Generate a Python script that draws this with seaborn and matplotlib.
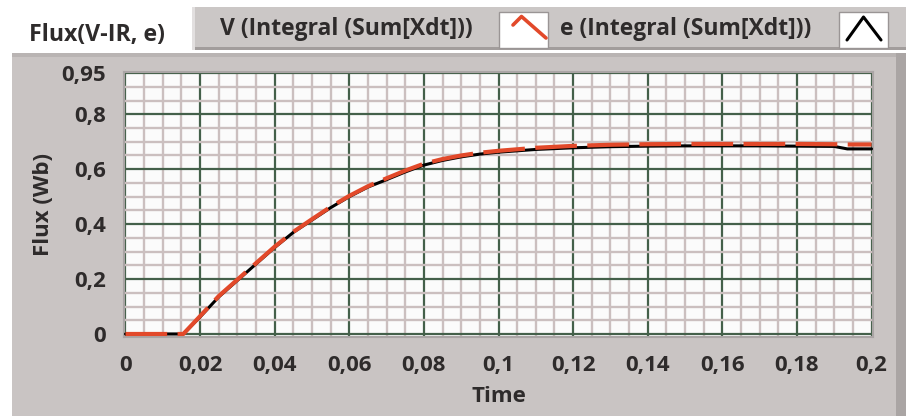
import matplotlib
matplotlib.use("Agg")
import matplotlib.pyplot as plt
import seaborn as sns
import pandas as pd
from matplotlib.patches import Rectangle
from matplotlib.lines import Line2D
from matplotlib.ticker import MultipleLocator, FixedLocator

# ---------------- data ----------------
time = [0, 0.005, 0.01, 0.0155, 0.02, 0.025, 0.03, 0.035, 0.04, 0.045, 0.05,
        0.055, 0.06, 0.065, 0.07, 0.075, 0.08, 0.085, 0.09, 0.095, 0.1, 0.11,
        0.12, 0.13, 0.14, 0.15, 0.16, 0.17, 0.18, 0.19, 0.1935, 0.2]
flux_e = [0, 0, 0, 0, 0.062, 0.135, 0.195, 0.255, 0.315, 0.37, 0.415,
          0.46, 0.5, 0.535, 0.562, 0.59, 0.615, 0.632, 0.645, 0.655, 0.662, 0.672,
          0.678, 0.682, 0.684, 0.685, 0.685, 0.685, 0.684, 0.683, 0.674, 0.674]
flux_v = [0, 0, 0, 0, 0.065, 0.138, 0.198, 0.258, 0.318, 0.372, 0.418,
          0.463, 0.503, 0.538, 0.567, 0.595, 0.62, 0.637, 0.65, 0.66, 0.667, 0.678,
          0.685, 0.689, 0.691, 0.692, 0.692, 0.692, 0.692, 0.691, 0.69, 0.69]
x_ticks = [0, 0.02, 0.04, 0.06, 0.08, 0.1, 0.12, 0.14, 0.16, 0.18, 0.2]
x_labels = ["0", "0,02", "0,04", "0,06", "0,08", "0,1", "0,12", "0,14", "0,16", "0,18", "0,2"]
y_ticks = [0, 0.2, 0.4, 0.6, 0.8, 0.95]
y_labels = ["0", "0,2", "0,4", "0,6", "0,8", "0,95"]
title_text = "Flux(V-IR, e)"
series_names = ["V (Integral (Sum[Xdt]))", "e (Integral (Sum[Xdt]))"]

df = pd.DataFrame({"Time": time, "e": flux_e, "V": flux_v})

# ---------------- style ----------------
sns.set_style("white")
plt.rcParams["font.family"] = ["Open Sans", "DejaVu Sans"]
plt.rcParams["font.weight"] = "bold"

W, H = 906, 416
fig = plt.figure(figsize=(W / 100, H / 100), dpi=100)
fig.patch.set_facecolor("white")

def fx(x):
    return x / W

def fy(y):
    return 1 - y / H

PANEL = "#c9c4c3"
TXT = "#2e2b2b"

# panel background
fig.add_artist(Rectangle((fx(12), 0), fx(896) - fx(12), fy(53), transform=fig.transFigure,
                         facecolor=PANEL, edgecolor="none", zorder=0))
fig.add_artist(Rectangle((fx(896), 0), fx(906) - fx(896), fy(53), transform=fig.transFigure,
                         facecolor="#aaa5a4", edgecolor="none", zorder=0))
fig.add_artist(Rectangle((fx(12), fy(57)), fx(896) - fx(12), fy(53) - fy(57), transform=fig.transFigure,
                         facecolor="#b9b4b3", edgecolor="none", zorder=0))

# legend box
fig.add_artist(Rectangle((fx(192), fy(50)), fx(906) - fx(192), fy(7) - fy(50), transform=fig.transFigure,
                         facecolor="#cbc7c6", edgecolor="none", zorder=1))
fig.add_artist(Rectangle((fx(192), fy(50)), fx(906) - fx(192), fy(47) - fy(50), transform=fig.transFigure,
                         facecolor="#a29d9c", edgecolor="none", zorder=1))
fig.add_artist(Rectangle((fx(192), fy(50)), fx(195) - fx(192), fy(7) - fy(50), transform=fig.transFigure,
                         facecolor="#e2dfdf", edgecolor="none", zorder=1))

fig.text(fx(29), fy(35), title_text, fontsize=16.7, fontweight="bold", color=TXT,
         ha="left", va="center")
fig.text(fx(220), fy(29), series_names[0], fontsize=16.5, fontweight="bold", color=TXT,
         ha="left", va="center", zorder=2)
fig.text(fx(560), fy(29), series_names[1], fontsize=16.5, fontweight="bold", color=TXT,
         ha="left", va="center", zorder=2)

# legend icons
for x0, x1 in [(499, 548), (839, 888)]:
    fig.add_artist(Rectangle((fx(x0), fy(48)), fx(x1) - fx(x0), fy(12) - fy(48), transform=fig.transFigure,
                             facecolor="white", edgecolor="#9a9595", lw=1, zorder=2))
fig.add_artist(Line2D([fx(513), fx(521.5), fx(546)], [fy(25), fy(16.5), fy(38)],
                      transform=fig.transFigure, color="#e2492a", lw=2.6, zorder=3))
fig.add_artist(Line2D([fx(847), fx(863.5), fx(881)], [fy(40), fy(17), fy(40)],
                      transform=fig.transFigure, color="black", lw=2.2, zorder=3))

# ---------------- axes ----------------
ax = fig.add_axes([fx(124), fy(337), fx(873) - fx(124), fy(72) - fy(337)])
ax.set_facecolor("#fbfbfb")

sns.lineplot(data=df, x="Time", y="e", ax=ax, color="black", lw=2.2, zorder=4)
sns.lineplot(data=df, x="Time", y="V", ax=ax, color="#e2492a", lw=3.0,
             linestyle=(0, (10, 2.5)), zorder=5)

ax.set_xlim(-0.0004, 0.2004)
ax.set_ylim(-0.011, 0.954)

ax.xaxis.set_major_locator(FixedLocator(x_ticks))
ax.set_xticklabels(x_labels)
ax.xaxis.set_minor_locator(MultipleLocator(0.005))
ax.yaxis.set_major_locator(FixedLocator(y_ticks))
ax.set_yticklabels(y_labels)
ax.yaxis.set_minor_locator(MultipleLocator(0.05))

ax.grid(which="minor", color="#cbbfbf", lw=1.7, zorder=0)
ax.grid(which="major", color="#44604a", lw=1.6, zorder=1)
ax.set_axisbelow(True)

ax.tick_params(which="major", direction="out", length=7, width=1.3, color="#555050",
               labelsize=16, labelcolor=TXT, pad=6)
ax.tick_params(which="minor", length=0)
for lab in ax.get_xticklabels() + ax.get_yticklabels():
    lab.set_fontweight("bold")

for s in ax.spines.values():
    s.set_color("#aaa5a5")
    s.set_linewidth(1.5)

ax.set_xlabel("Time", fontsize=16, fontweight="bold", color=TXT, labelpad=7)
ax.set_ylabel("Flux (Wb)", fontsize=16, fontweight="bold", color=TXT, labelpad=5)
if ax.get_legend():
    ax.get_legend().remove()

fig.savefig("out.png", dpi=100)
